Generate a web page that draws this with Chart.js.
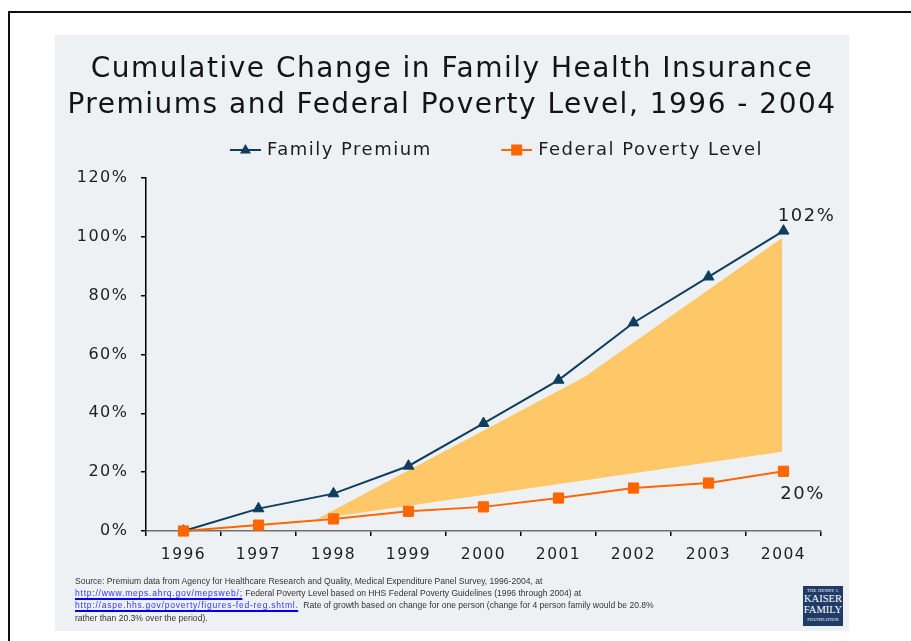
<!DOCTYPE html>
<html>
<head>
<meta charset="utf-8">
<script src="https://cdn.jsdelivr.net/npm/chart.js@4.4.1/dist/chart.umd.min.js"></script>
<style>
  html, body { margin:0; padding:0; background:#ffffff; width:911px; height:641px; overflow:hidden; }
  #frame { position:absolute; left:8px; top:11px; width:1000px; height:1000px; border-left:2px solid #111; border-top:2px solid #111; }
  #panel { position:absolute; left:55px; top:35px; width:794px; height:596px; background:#EEF1F4; }
  #wrap { position:absolute; left:0; top:0; width:911px; height:641px; }
  #src { position:absolute; left:75px; top:574.5px; font-family:"Liberation Sans", Arial, sans-serif; font-size:9.5px; line-height:12.4px; color:#333; white-space:nowrap; transform:scaleX(0.9); transform-origin:0 0; }
  #src a { color:#3333ff; text-decoration:none; border-bottom:2px solid #0000ee; letter-spacing:0.84px; }
  #logo { position:absolute; left:803px; top:586px; width:40px; height:40px; background:#1F3C68; color:#fff; font-family:"Liberation Serif", "DejaVu Serif", serif; text-align:center; }
  #logo .s { font-size:4.6px; line-height:7px; letter-spacing:0.2px; padding-top:1px; }
  #logo .b { font-size:10.5px; line-height:10.5px; }
</style>
</head>
<body>
<div id="frame"></div>
<div id="panel"></div>
<div id="wrap"><canvas id="c" width="911" height="641"></canvas></div>
<div id="src">Source: Premium data from Agency for Healthcare Research and Quality, Medical Expenditure Panel Survey, 1996-2004, at<br><a>http://www.meps.ahrq.gov/mepsweb/;</a> Federal Poverty Level based on HHS Federal Poverty Guidelines (1996 through 2004) at<br><a>http://aspe.hhs.gov/poverty/figures-fed-reg.shtml.</a>&nbsp; Rate of growth based on change for one person (change for 4 person family would be 20.8%<br>rather than 20.3% over the period).</div>
<div id="logo"><div class="s">THE HENRY J.</div><div class="b">KAISER</div><div class="b">FAMILY</div><div class="s">FOUNDATION</div></div>
<script>
// ---- data ----
const years = ['1996', '1997', '1998', '1999', '2000', '2001', '2002', '2003', '2004'];
const familyPremium = [0, 7.6, 12.7, 22.1, 36.6, 51.3, 70.8, 86.4, 102];
const federalPovertyLevel = [0, 2.0, 4.1, 6.7, 8.2, 11.2, 14.6, 16.3, 20.3];
const yTicks = [0, 20, 40, 60, 80, 100, 120];
const endLabels = ['102%', '20%'];
const seriesNames = ['Family Premium', 'Federal Poverty Level'];
const titleLines = ['Cumulative Change in Family Health Insurance', 'Premiums and Federal Poverty Level, 1996 - 2004'];
// decorative wedge (category-index units, percent)
const wedgeX = [1.78, 5.35, 7.98, 7.98];
const wedgeY = [4.1, 52.4, 99.6, 26.9];

const NAVY = '#0F3D5E';
const ORANGE = '#FF6600';
const WEDGE = '#FEC768';
const FONT = '"DejaVu Sans", Verdana, sans-serif';
const SPACING = '1.5px';

function makeIcon(kind) {
  const c = document.createElement('canvas');
  c.width = 60; c.height = 16;
  const g = c.getContext('2d');
  const color = kind === 'tri' ? NAVY : ORANGE;
  g.strokeStyle = color; g.fillStyle = color; g.lineWidth = 2;
  g.beginPath(); g.moveTo(29, 8); g.lineTo(60, 8); g.stroke();
  const cx = 44.5, cy = 8;
  if (kind === 'tri') {
    g.beginPath(); g.moveTo(cx, cy - 6); g.lineTo(cx + 5.5, cy + 3.5); g.lineTo(cx - 5.5, cy + 3.5); g.closePath(); g.fill();
  } else {
    g.fillRect(cx - 5.5, cy - 5.5, 11, 11);
  }
  return c;
}
const triIcon = makeIcon('tri');
const sqIcon = makeIcon('sq');

const spacingPlugin = {
  id: 'spacing',
  beforeUpdate(chart) { chart.ctx.letterSpacing = SPACING; },
  beforeLayout(chart) { chart.ctx.letterSpacing = SPACING; },
  beforeDraw(chart) { chart.ctx.letterSpacing = SPACING; }
};

const endLabelPlugin = {
  id: 'endLabels',
  afterDatasetsDraw(chart) {
    const ctx = chart.ctx;
    ctx.save();
    ctx.letterSpacing = SPACING;
    ctx.font = '18px ' + FONT;
    ctx.fillStyle = '#1e1e1e';
    ctx.textAlign = 'center';
    ctx.textBaseline = 'middle';
    const spots = [[1, 23, -15], [0, 19, 23]];
    spots.forEach(([di, dx, dy], k) => {
      const meta = chart.getDatasetMeta(di);
      const pt = meta.data[meta.data.length - 1];
      ctx.fillText(endLabels[k], pt.x + dx, pt.y + dy);
    });
    ctx.restore();
  }
};

new Chart(document.getElementById('c'), {
  type: 'line',
  data: {
    labels: years,
    datasets: [
      {
        label: seriesNames[1], data: federalPovertyLevel, xAxisID: 'x', yAxisID: 'y', order: 0,
        borderColor: ORANGE, backgroundColor: ORANGE, borderWidth: 2, tension: 0, fill: false,
        pointStyle: 'rect', pointRadius: 7.2, pointBorderWidth: 1,
        pointBackgroundColor: ORANGE, pointBorderColor: ORANGE, clip: false
      },
      {
        label: seriesNames[0], data: familyPremium, xAxisID: 'x', yAxisID: 'y', order: 1,
        borderColor: NAVY, backgroundColor: NAVY, borderWidth: 2, tension: 0, fill: false,
        pointStyle: 'triangle', pointRadius: 6.3, pointBorderWidth: 1,
        pointBackgroundColor: NAVY, pointBorderColor: NAVY, clip: false
      },
      {
        label: 'wedge', data: wedgeX.map((x, i) => ({ x: x, y: wedgeY[i] })), xAxisID: 'xw', yAxisID: 'y', order: 5,
        borderColor: 'rgba(0,0,0,0)', borderWidth: 1, backgroundColor: WEDGE, fill: 'shape',
        pointRadius: 0, pointHoverRadius: 0, tension: 0, clip: false
      }
    ]
  },
  plugins: [spacingPlugin, endLabelPlugin],
  options: {
    responsive: false,
    animation: false,
    events: [],
    layout: { padding: { left: 55, right: 62, top: 35, bottom: 0 } },
    plugins: {
      tooltip: { enabled: false },
      title: {
        display: true, text: titleLines, color: '#141414',
        font: { family: FONT, size: 28, weight: 'normal', lineHeight: 36.5 / 28 },
        padding: { top: 16, bottom: -26.5 }
      },
      subtitle: {
        display: true, text: '', weight: 500,
        font: { size: 1, lineHeight: 1 },
        padding: { top: 0, bottom: 8 }
      },
      legend: {
        display: true, position: 'top', align: 'center', fullSize: false,
        labels: {
          usePointStyle: true, pointStyleWidth: 54, padding: 43.5,
          color: '#1e1e1e', font: { family: FONT, size: 18 },
          generateLabels: () => [
            { text: seriesNames[0], pointStyle: triIcon, fillStyle: NAVY, strokeStyle: NAVY, lineWidth: 0, hidden: false, datasetIndex: 1, fontColor: '#1e1e1e' },
            { text: seriesNames[1], pointStyle: sqIcon, fillStyle: ORANGE, strokeStyle: ORANGE, lineWidth: 0, hidden: false, datasetIndex: 0, fontColor: '#1e1e1e' }
          ]
        }
      }
    },
    scales: {
      x: {
        type: 'category', position: 'bottom', offset: true,
        grid: { display: true, offset: true, drawOnChartArea: false, drawTicks: true, tickLength: 5, color: '#000', lineWidth: 1.5 },
        border: { display: true, color: '#707070', width: 1.5 },
        ticks: { color: '#1e1e1e', font: { family: FONT, size: 15.5 }, padding: 10, maxRotation: 0, autoSkip: false },
        afterFit: (s) => { s.height = 110; }
      },
      xw: {
        type: 'linear', position: 'bottom', display: false, min: -0.5, max: 8.5
      },
      y: {
        type: 'linear', position: 'left', min: 0, max: 120,
        afterBuildTicks: (s) => { s.ticks = yTicks.map(v => ({ value: v })); },
        grid: { display: true, drawOnChartArea: false, drawTicks: true, tickLength: 5, color: '#000', lineWidth: 1.5 },
        border: { display: true, color: '#000', width: 1.5 },
        ticks: { color: '#1e1e1e', font: { family: FONT, size: 16 }, padding: 12.5, callback: (v) => v + '%' },
        afterFit: (s) => { s.width = 91; }
      },
      yR: {
        type: 'linear', position: 'right', display: true,
        grid: { display: false }, border: { display: false }, ticks: { display: false },
        afterFit: (s) => { s.width = 28; }
      }
    }
  }
});
</script>
</body>
</html>
